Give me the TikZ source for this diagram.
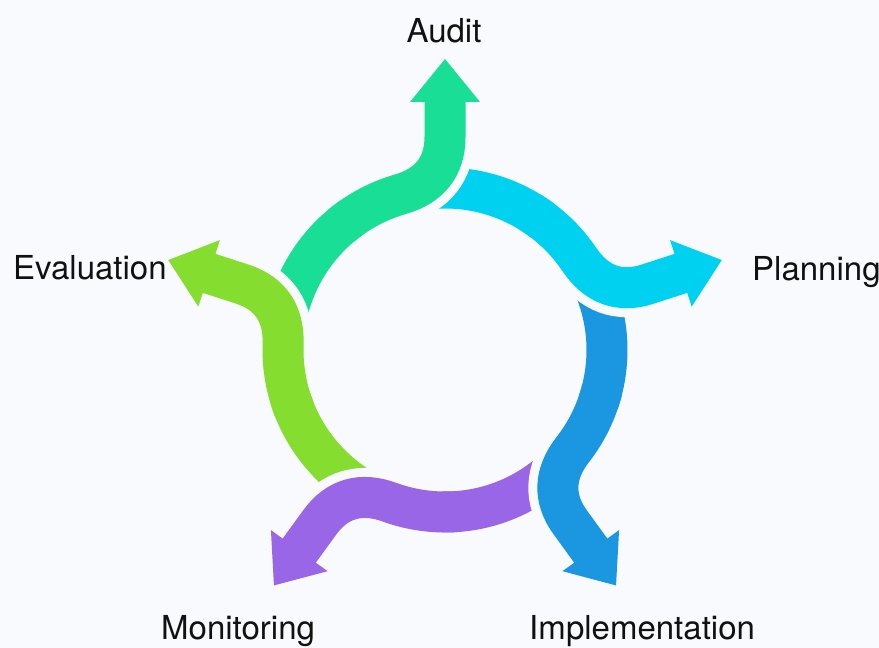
\documentclass[tikz,border=0pt]{standalone}
\usepackage{fontspec}
\setmainfont{TeX Gyre Heros}
\definecolor{bg}{HTML}{F9FAFD}
\definecolor{cgreen}{HTML}{19DF96}
\definecolor{ccyan}{HTML}{00D1F0}
\definecolor{cblue}{HTML}{1B97E2}
\definecolor{cpurple}{HTML}{9966E8}
\definecolor{clime}{HTML}{84DD2F}
\definecolor{ctext}{HTML}{111111}
\tikzset{
  segband/.style={line width=41pt, line cap=butt},
  seggap/.style={line width=59pt, line cap=butt, draw=bg},
  lbl/.style={font=\fontsize{33}{39}\selectfont, text=ctext, inner sep=0pt},
}
% tail part of a segment (drawn first, lies under the previous segment's bend)
\newcommand\tailpath{(170:162) arc[start angle=170, end angle=125, radius=162]}
% bend part only (its white outline cuts the next segment's tail)
\newcommand\bendpath{(106:162) .. controls (-15.8,164.0) and (0,183) .. (0,213) -- (0,249)}
% body: rest of the arc, bend and shaft
\newcommand\bodypath{(130:162) arc[start angle=130, end angle=106, radius=162] .. controls (-15.8,164.0) and (0,183) .. (0,213) -- (0,249)}
\newcommand\segtail[2]{%
  \begin{scope}[shift={(445,298)},rotate=#1]
    \draw[segband,draw=#2] \tailpath;
  \end{scope}}
\newcommand\segbody[2]{%
  \begin{scope}[shift={(445,298)},rotate=#1]
    \draw[seggap] \bendpath;
    \draw[segband,draw=#2] \bodypath;
    \fill[#2] (-35,248) -- (35,248) -- (0,291) -- cycle;
  \end{scope}}
\begin{document}
\begin{tikzpicture}[x=1pt,y=1pt]
  \fill[bg] (0,0) rectangle (879,648);
  \useasboundingbox (0,0) rectangle (879,648);
  \segtail{0}{cgreen}
  \segtail{-72}{ccyan}
  \segtail{-144}{cblue}
  \segtail{144}{cpurple}
  \segtail{72}{clime}
  \segbody{0}{cgreen}
  \segbody{-72}{ccyan}
  \segbody{-144}{cblue}
  \segbody{144}{cpurple}
  \segbody{72}{clime}
  \node[lbl, anchor=base] (audit) at (444,605) {Audit};
  \node[lbl, anchor=base west] (planning) at (752,367) {Planning};
  \node[lbl, anchor=base west] (impl) at (529,8) {Implementation};
  \node[lbl, anchor=base west] (monit) at (161,8) {Monitoring};
  \node[lbl, anchor=base west] (evalu) at (13,368) {Evaluation};
\end{tikzpicture}
\end{document}
